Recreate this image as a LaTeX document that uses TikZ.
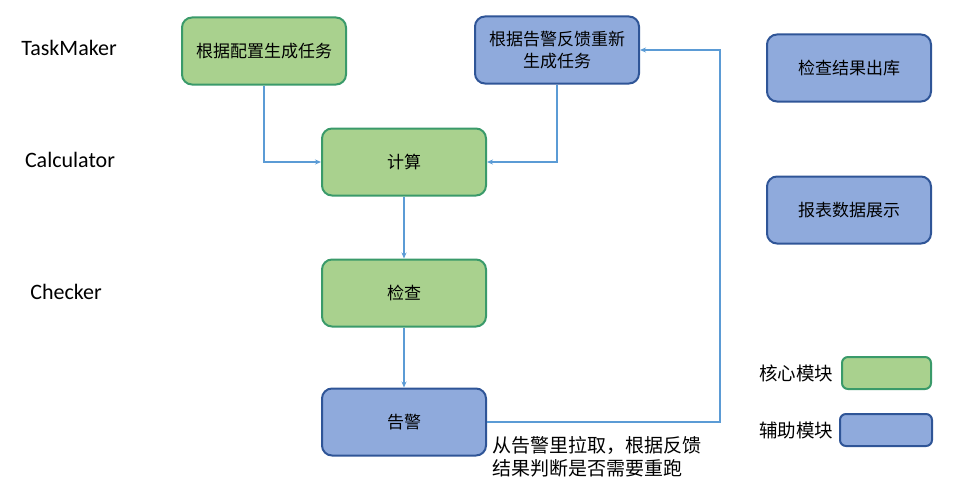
\documentclass[tikz,border=0pt]{standalone}
\usepackage{fontspec}
\setmainfont{Carlito}
\newfontfamily\cjk{Noto Sans CJK SC}
\usetikzlibrary{arrows.meta}
\definecolor{gfill}{HTML}{A9D18E}
\definecolor{gline}{HTML}{3A9A6A}
\definecolor{bfill}{HTML}{8FAADC}
\definecolor{bline}{HTML}{2F5597}
\definecolor{arr}{HTML}{5B9BD5}
\tikzset{
  core/.style={draw=gline, fill=gfill, line width=2pt, rounded corners=10pt, minimum width=164pt, minimum height=67pt, align=center, font=\cjk\fontsize{17}{22}\selectfont, inner sep=0pt},
  aux/.style={core, draw=bline, fill=bfill},
  lab/.style={font=\fontsize{22}{26}\selectfont},
  leg/.style={font=\cjk\fontsize{18.5}{22}\selectfont},
  conn/.style={draw=arr, line width=1.5pt, -{Stealth[length=6pt,width=5pt]}},
}
\begin{document}
\begin{tikzpicture}[x=1pt,y=-1pt]
\useasboundingbox (0,0) rectangle (968,487);
\node[lab] (tm) at (69,48) {TaskMaker};
\node[lab] (ca) at (70,160) {Calculator};
\node[lab] (ch) at (66,292) {Checker};
\node[core] (b1) at (264,51) {根据配置生成任务};
\node[aux] (b2) at (557,50) {根据告警反馈重新\\生成任务};
\node[core] (calc) at (404,162) {计算};
\node[core] (chk) at (404,293) {检查};
\node[aux] (alarm) at (404,422) {告警};
\node[aux] (out) at (849,68) {检查结果出库};
\node[aux] (rep) at (849,210) {报表数据展示};
\node[leg] (lg1) at (796,373) {核心模块};
\node[core, minimum width=89pt, minimum height=32pt, rounded corners=6pt] (lgb1) at (886.5,373) {};
\node[leg] (lg2) at (796,430) {辅助模块};
\node[aux, minimum width=92pt, minimum height=32pt, rounded corners=6pt] (lgb2) at (886,430) {};
\node[anchor=north west, align=left, inner sep=0pt, font=\cjk\fontsize{19}{23}\selectfont] (note) at (492,436) {从告警里拉取，根据反馈\\结果判断是否需要重跑};
\coordinate (c1) at (b1.south |- calc.west);
\coordinate (c2) at (b2.south |- calc.east);
\coordinate (c3) at (720,422);
\coordinate (c4) at (720,50);
\draw[conn] (b1.south) -- (c1) -- (calc.west);
\draw[conn] (b2.south) -- (c2) -- (calc.east);
\draw[conn] (calc.south) -- (chk.north);
\draw[conn] (chk.south) -- (alarm.north);
\draw[conn] (alarm.east) -- (c3) -- (c4) -- (b2.east);
\end{tikzpicture}
\end{document}
